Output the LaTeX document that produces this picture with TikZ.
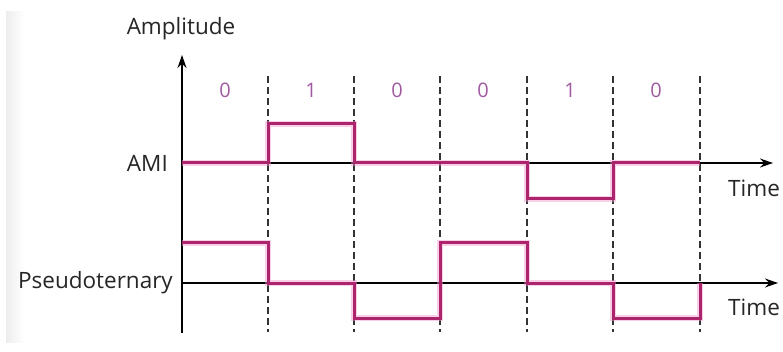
\documentclass[tikz,border=0pt]{standalone}
\usepackage{fontspec}
\setmainfont{Open Sans}
\usetikzlibrary{arrows.meta}
\definecolor{sig}{RGB}{172,36,108}
\definecolor{halo}{RGB}{240,150,200}
\definecolor{bitc}{RGB}{160,90,160}
\begin{document}
\begin{tikzpicture}[x=1pt,y=-1pt,
  axisline/.style={draw=black,line width=1.1pt,-{Stealth[length=13pt,width=9pt]}},
  divider/.style={draw=black!80,line width=1.1pt,dash pattern=on 7pt off 4pt},
  sigline/.style={draw=sig,line width=3pt,line join=miter},
  sighalo/.style={draw=halo,line width=6pt,opacity=0.45},
  lbl/.style={font=\fontsize{22.5}{24}\selectfont,text=black!85,inner sep=0pt},
  bit/.style={font=\fontsize{20}{22}\selectfont,text=bitc,inner sep=0pt}]
\useasboundingbox (0,0) rectangle (783,352);
\fill[white] (0,0) rectangle (783,352);
\shade[left color=black!7,right color=white] (6,12) rectangle (24,342);
% divider lines
\foreach \x [count=\i] in {268,354,440,527,613,700}
  \draw[divider] (\x,76) -- (\x,332);
% axes
\coordinate (o) at (182,333);
\coordinate (ytop) at (182,55);
\draw[axisline] (o) -- (ytop);
\coordinate (amiS) at (182,163);
\coordinate (amiE) at (773,163);
\draw[axisline] (amiS) -- (amiE);
\coordinate (psS) at (182,283);
\coordinate (psE) at (778,283);
\draw[axisline] (psS) -- (psE);
% labels
\node[lbl] (amp) at (181,29) {Amplitude};
\node[lbl,anchor=east] (ami) at (168,163) {AMI};
\node[lbl,anchor=east] (ps) at (173,283) {Pseudoternary};
\node[lbl,anchor=west] (t1) at (728,188) {Time};
\node[lbl,anchor=west] (t2) at (728,307) {Time};
% bits
\foreach \x/\b in {225/0,311/1,397/0,483/0,570/1,656/0}
  \node[bit] at (\x,90) {\b};
% AMI signal
\def\amipath{(182,163) -- (268,163) -- (268,124) -- (354,124) -- (354,163) -- (527,163) -- (527,199) -- (613,199) -- (613,163) -- (700,163)}
\draw[sighalo] \amipath;
\draw[sigline] \amipath;
% Pseudoternary signal
\def\pspath{(182,243) -- (268,243) -- (268,283) -- (354,283) -- (354,318) -- (440,318) -- (440,243) -- (527,243) -- (527,283) -- (613,283) -- (613,318) -- (700,318) -- (700,283)}
\draw[sighalo] \pspath;
\draw[sigline] \pspath;
\end{tikzpicture}
\end{document}
